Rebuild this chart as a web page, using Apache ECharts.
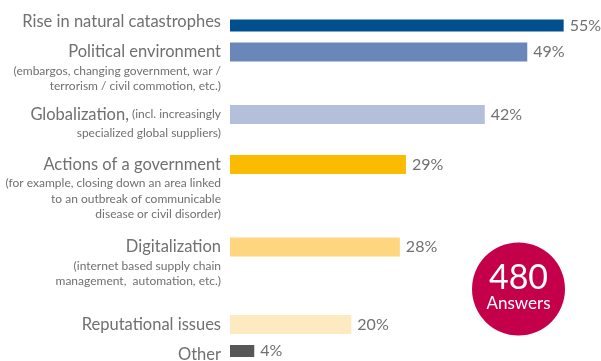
<!DOCTYPE html>
<html>
<head>
<meta charset="utf-8">
<script src="https://cdn.jsdelivr.net/npm/echarts@6/dist/echarts.min.js"></script>
<style>
html,body{margin:0;padding:0;background:#fff;}
#chart{width:601px;height:361px;}
</style>
</head>
<body>
<div id="chart"></div>
<script>
// ---- data ----
const categories = ['Rise in natural catastrophes', 'Political environment', 'Globalization,', 'Actions of a government', 'Digitalization', 'Reputational issues', 'Other'];
const inlineNotes = ['', '', '(incl. increasingly', '', '', '', ''];
const subLines = [
  [],
  ['(embargos, changing government, war /', 'terrorism / civil commotion, etc.)'],
  ['specialized global suppliers)'],
  ['(for example, closing down an area linked', 'to an outbreak of communicable', 'disease or civil disorder)'],
  ['(internet based supply chain', 'management,  automation, etc.)'],
  [],
  []
];
const values = [55, 49, 42, 29, 28, 20, 4];
const answersCount = '480';
const answersLabel = 'Answers';

// ---- styles / layout ----
const barColors = ['#00508F', '#6A87B9', '#B4BFDC', '#FBBB00', '#FED680', '#FEEAC0', '#575757'];
const textColor = '#707070';
const FONT = 'Lato, "Open Sans", sans-serif';
const ROW_SLOT = [0, 12, 37, 57, 90, 121, 133];
const TOTAL_SLOTS = 134;

const axisNames = [];
const seriesData = [];
const slotToCat = {};
for (let i = 0; i < TOTAL_SLOTS; i++) { axisNames.push('s' + i); seriesData.push('-'); }
categories.forEach((c, i) => {
  const s = ROW_SLOT[i];
  slotToCat[s] = i;
  axisNames[s] = c;
  seriesData[s] = { value: values[i], itemStyle: { color: barColors[i] } };
});

function labelFor(idx) {
  if (!(idx in slotToCat)) return '';
  const i = slotToCat[idx];
  const subs = subLines[i];
  const lines = [];
  subs.forEach(() => lines.push('{gap| }'));
  let main = '{main|' + categories[i] + '}';
  if (inlineNotes[i]) main += '{sub| ' + inlineNotes[i] + '}';
  lines.push(main);
  subs.forEach(s => lines.push('{sub|' + s + '}'));
  return lines.join('\n');
}

const chart = echarts.init(document.getElementById('chart'), null, { renderer: 'canvas' });
chart.setOption({
  animation: false,
  textStyle: { fontFamily: FONT },
  grid: { left: 230, right: 7, top: 22, bottom: 6.5, containLabel: false, outerBoundsMode: 'none' },
  xAxis: { type: 'value', min: 0, max: 60, show: false },
  yAxis: {
    type: 'category',
    inverse: true,
    boundaryGap: false,
    data: axisNames,
    axisLine: { show: false },
    axisTick: { show: false },
    splitLine: { show: false },
    axisLabel: {
      interval: 0,
      margin: 9,
      align: 'right',
      verticalAlign: 'middle',
      formatter: (v, idx) => labelFor(idx),
      rich: {
        main: { fontFamily: FONT, fontSize: 16.5, lineHeight: 22, color: textColor },
        sub: { fontFamily: FONT, fontSize: 12, lineHeight: 15.5, color: textColor },
        gap: { fontFamily: FONT, fontSize: 12, lineHeight: 15.5, color: textColor }
      }
    }
  },
  series: [{
    type: 'bar',
    data: seriesData,
    barWidth: 19,
    label: {
      show: true,
      position: 'right',
      distance: 6,
      formatter: '{c}%',
      fontFamily: FONT,
      fontSize: 16,
      color: textColor
    }
  }],
  graphic: [{
    type: 'group',
    left: 472,
    top: 242.5,
    children: [
      { type: 'circle', shape: { cx: 46.5, cy: 46.5, r: 46.5 }, style: { fill: '#C5004A' } },
      { type: 'text', x: 46.5, y: 35.5, style: { text: answersCount, fill: '#fff', font: '34px ' + FONT, textAlign: 'center', textVerticalAlign: 'middle' } },
      { type: 'text', x: 46.5, y: 61.5, style: { text: answersLabel, fill: '#fff', font: '17px ' + FONT, textAlign: 'center', textVerticalAlign: 'middle' } }
    ]
  }]
});
</script>
</body>
</html>
